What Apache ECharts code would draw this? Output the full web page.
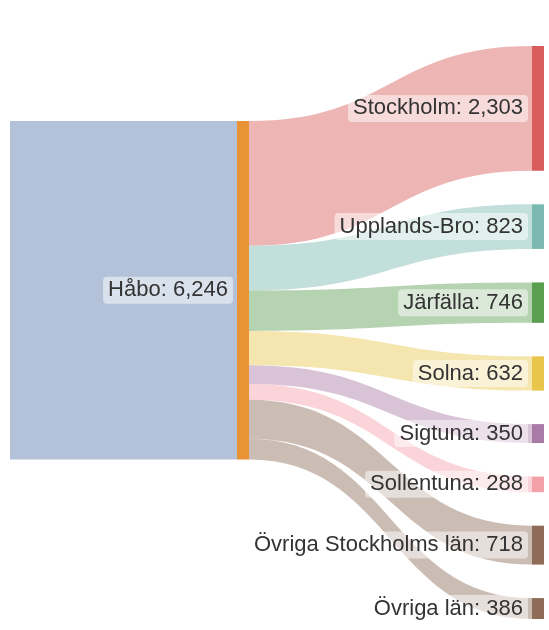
<!DOCTYPE html>
<html>
<head>
<meta charset="utf-8">
<script src="https://cdn.jsdelivr.net/npm/echarts@6/dist/echarts.min.js"></script>
<style>
  html, body { margin: 0; padding: 0; background: #fff; }
  #main { width: 549px; height: 630px; }
</style>
</head>
<body>
<div id="main"></div>
<script>
// origin municipality and its total
const sourceName = 'Håbo';
const sourceTotal = 6246;

// destinations and flows, top to bottom
const destinations = ['Stockholm', 'Upplands-Bro', 'Järfälla', 'Solna', 'Sigtuna', 'Sollentuna', 'Övriga Stockholms län', 'Övriga län'];
const flows = [2303, 823, 746, 632, 350, 288, 718, 386];

// styling
const destColors = ['#d95c5c', '#7bb8af', '#5a9e4f', '#e8c64b', '#a87aa6', '#f3a0a8', '#8e6c58', '#8e6c58'];
const sourceColor = '#ea9236';
const inflowColor = '#b3c2d9';

const fmt = v => v.toLocaleString('en-US');

const nodes = [
  { name: '_in', value: sourceTotal, localY: 0.131, itemStyle: { color: 'rgba(0,0,0,0)' }, label: { show: false } },
  { name: sourceName, value: sourceTotal, localX: 0.4377, localY: 0.131, itemStyle: { color: sourceColor } }
].concat(destinations.map((d, i) => ({ name: d, value: flows[i], itemStyle: { color: destColors[i] } })));

const links = [
  { source: '_in', target: sourceName, value: sourceTotal, lineStyle: { color: inflowColor, opacity: 1 } }
].concat(destinations.map((d, i) => ({ source: sourceName, target: d, value: flows[i] })));

const chart = echarts.init(document.getElementById('main'));
chart.setOption({
  animation: false,
  series: [{
    type: 'sankey',
    left: -2,
    right: 5,
    top: 46,
    bottom: 11,
    nodeWidth: 12,
    nodeGap: 33.5,
    layoutIterations: 0,
    draggable: false,
    emphasis: { disabled: true },
    data: nodes,
    links: links,
    itemStyle: { borderWidth: 0 },
    lineStyle: { color: 'target', opacity: 0.45, curveness: 0.5 },
    label: {
      show: true,
      position: 'left',
      distance: 4,
      fontFamily: '"Liberation Sans", Arial, sans-serif',
      fontSize: 22,
      color: '#333',
      backgroundColor: 'rgba(255,255,255,0.5)',
      borderRadius: 4,
      padding: [3, 5, 2, 5],
      formatter: p => p.name + ': ' + fmt(p.value)
    }
  }]
});
</script>
</body>
</html>
